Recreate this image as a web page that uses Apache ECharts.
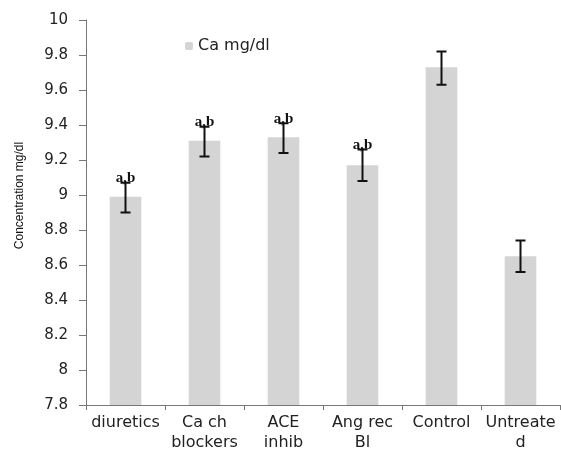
<!DOCTYPE html>
<html>
<head>
<meta charset="utf-8">
<script src="https://cdn.jsdelivr.net/npm/echarts@6/dist/echarts.min.js"></script>
<style>
html,body{margin:0;padding:0;background:#fff;}
#c{width:561px;height:453px;}
</style>
</head>
<body>
<div id="c"></div>
<script>
var categories = ['diuretics', 'Ca ch\nblockers', 'ACE\ninhib', 'Ang rec\nBl', 'Control', 'Untreate\nd'];
var caValues = [8.99, 9.31, 9.33, 9.17, 9.73, 8.65];
var errLow = [8.90, 9.22, 9.24, 9.08, 9.63, 8.56];
var errHigh = [9.07, 9.39, 9.41, 9.26, 9.82, 8.74];
var annotations = ['a,b', 'a,b', 'a,b', 'a,b', '', ''];
var yTicks = [7.8, 8, 8.2, 8.4, 8.6, 8.8, 9, 9.2, 9.4, 9.6, 9.8, 10];

var errData = categories.map(function (c, i) { return [i, errLow[i], errHigh[i], annotations[i]]; });

var chart = echarts.init(document.getElementById('c'));
chart.setOption({
  animation: false,
  backgroundColor: '#fff',
  grid: { left: 86, right: 1, top: 20, bottom: 47, containLabel: false },
  legend: {
    data: ['Ca mg/dl'],
    left: 180, top: 33,
    itemWidth: 8, itemHeight: 8, itemGap: 6,
    textStyle: { fontFamily: 'DejaVu Sans', fontSize: 16, color: '#222' }
  },
  xAxis: {
    type: 'category',
    data: categories,
    axisLine: { lineStyle: { color: '#777', width: 1 } },
    axisTick: { show: true, length: 5, alignWithLabel: false, lineStyle: { color: '#777' } },
    axisLabel: { fontFamily: 'DejaVu Sans', fontSize: 16, color: '#222', margin: 8, lineHeight: 20, interval: 0 }
  },
  yAxis: {
    type: 'value',
    min: 7.8, max: 10, interval: 0.2,
    name: 'Concentration mg/dl',
    nameLocation: 'middle',
    nameGap: 60,
    nameTextStyle: { fontFamily: 'Liberation Sans', fontSize: 12, color: '#111', padding: [0, 0, 0, 34] },
    splitLine: { show: false },
    axisLine: { show: true, lineStyle: { color: '#777', width: 1 } },
    axisTick: { show: true, length: 7, inside: false, lineStyle: { color: '#777' } },
    axisLabel: {
      fontFamily: 'DejaVu Sans', fontSize: 15, color: '#222', margin: 18,
      formatter: function (v) { return String(Math.round(v * 10) / 10); }
    }
  },
  series: [
    {
      name: 'Ca mg/dl',
      type: 'bar',
      data: caValues,
      barWidth: '40%',
      itemStyle: { color: '#d4d4d4' }
    },
    {
      name: 'err',
      type: 'custom',
      data: errData,
      z: 10,
      renderItem: function (params, api) {
        var x = api.value(0);
        var lo = api.coord([x, api.value(1)]);
        var hi = api.coord([x, api.value(2)]);
        var cap = 5;
        var style = { stroke: '#111', lineWidth: 2 };
        var children = [
          { type: 'line', shape: { x1: lo[0], y1: lo[1], x2: hi[0], y2: hi[1] }, style: style },
          { type: 'line', shape: { x1: lo[0] - cap, y1: lo[1], x2: lo[0] + cap, y2: lo[1] }, style: style },
          { type: 'line', shape: { x1: hi[0] - cap, y1: hi[1], x2: hi[0] + cap, y2: hi[1] }, style: style }
        ];
        var ann = api.value(3);
        if (ann) {
          children.push({
            type: 'text',
            style: {
              text: ann, x: hi[0], y: hi[1] + 3,
              align: 'center', verticalAlign: 'bottom',
              font: 'bold 15px "Liberation Serif"', fill: '#111'
            }
          });
        }
        return { type: 'group', children: children };
      },
      encode: { x: 0, y: [1, 2] }
    }
  ]
});
</script>
</body>
</html>
